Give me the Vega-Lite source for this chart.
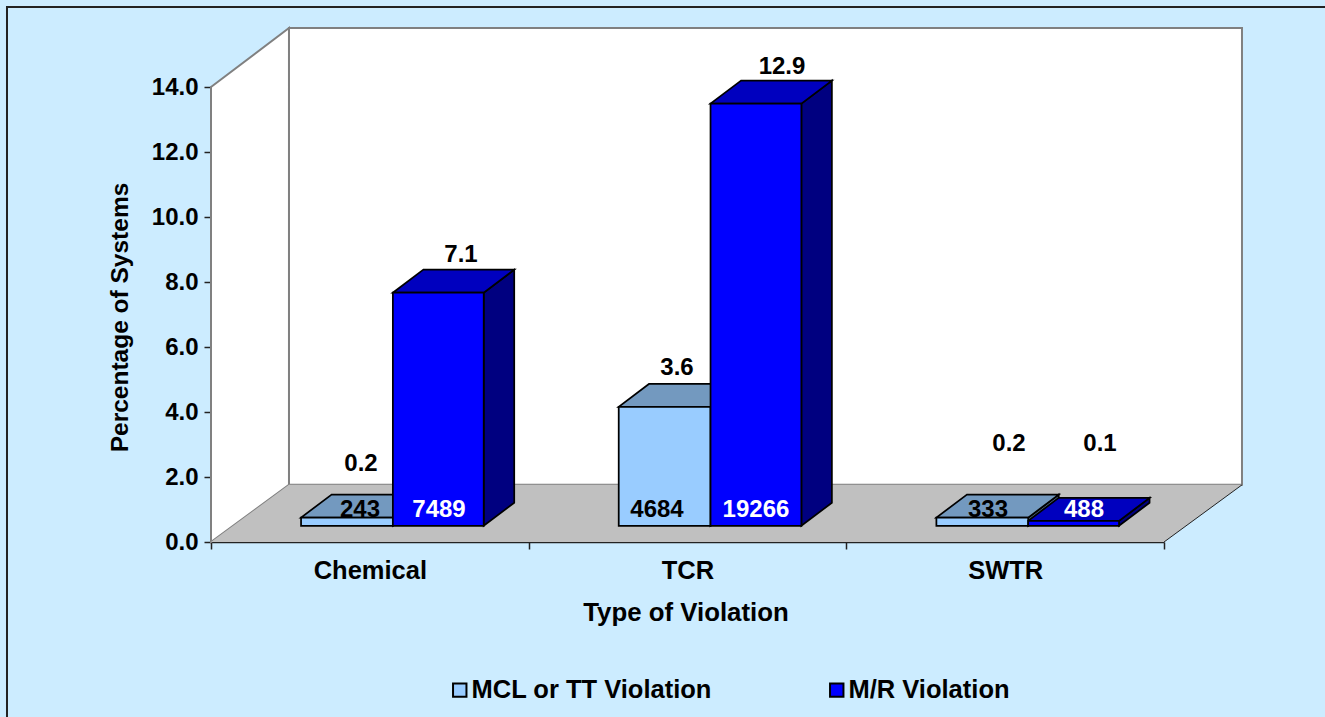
{
"$schema":"https://vega.github.io/schema/vega-lite/v6.json",
"autosize":{"type":"none"},
"width":953,"height":455,
"padding":{"left":211,"top":87,"right":161,"bottom":175},
"background":"#CCECFF",
"config":{"view":{"stroke":null},"font":"Liberation Sans","axis":{"grid":false,"labelFont":"Liberation Sans","titleFont":"Liberation Sans","labelFontWeight":"bold","titleFontWeight":"bold","labelFontSize":25.5,"titleFontSize":25.8,"labelColor":"black","titleColor":"black","domainColor":"#222222","tickColor":"#222222","domainWidth":1.5,"tickWidth":1.5,"tickSize":7,"zindex":1}},
"data":{"values":[
{"category":"Chemical","series":"MCL or TT Violation","percent":0.2,"systems":243},
{"category":"Chemical","series":"M/R Violation","percent":7.1,"systems":7489},
{"category":"TCR","series":"MCL or TT Violation","percent":3.6,"systems":4684},
{"category":"TCR","series":"M/R Violation","percent":12.9,"systems":19266},
{"category":"SWTR","series":"MCL or TT Violation","percent":0.2,"systems":333},
{"category":"SWTR","series":"M/R Violation","percent":0.1,"systems":488}
]},
"transform":[
{"calculate":"indexof(['Chemical','TCR','SWTR'],datum.category)+(datum.series==='M/R Violation'?0.5725:0.2835)","as":"left"},
{"calculate":"datum.left+(datum.series==='M/R Violation'?0.286:0.289)","as":"right"},
{"calculate":"0.5","as":"base"},
{"calculate":"datum.base+datum.percent*1.003+0.05","as":"top"},
{"calculate":"datum.category+'|'+datum.series[1]","as":"key"},
{"calculate":"{'Chemical|C':0.4722,'Chemical|/':0.787,'TCR|C':1.467,'TCR|/':1.7975,'SWTR|C':2.512,'SWTR|/':2.7985}[datum.key]","as":"pctX"},
{"calculate":"{'Chemical|C':2.41,'Chemical|/':8.84,'TCR|C':5.365,'TCR|/':14.63,'SWTR|C':3.03,'SWTR|/':3.03}[datum.key]","as":"pctY"},
{"calculate":"{'Chemical|C':0.469,'Chemical|/':0.7177,'TCR|C':1.404,'TCR|/':1.7156,'SWTR|C':2.446,'SWTR|/':2.748}[datum.key]","as":"cntX"}
],
"resolve":{"scale":{"x":"independent","color":"independent"}},
"layer":[
{"mark":{"type":"bar","opacity":0},
 "encoding":{"x":{"field":"category","type":"nominal","sort":["Chemical","TCR","SWTR"],"scale":{"type":"band","domain":["Chemical","TCR","SWTR"],"paddingInner":0,"paddingOuter":0},
   "axis":{"title":"Type of Violation","labelAngle":0,"tickBand":"extent","labelPadding":9,"titlePadding":17,"titleX":474.5,"orient":"bottom"}},
 "y":{"field":"percent","type":"quantitative","stack":null,"scale":{"domain":[0,14],"nice":false},
   "axis":{"title":"Percentage of Systems","values":[0,2,4,6,8,10,12,14],"format":".1f","labelPadding":6,"labelFontSize":24,"titleFontSize":24.5,"titlePadding":19,"titleY":230}}}},
{"data":{"values":[{"plane":"frame"}]},"mark":{"type":"rect","filled":false,"stroke":"#222222","strokeWidth":2},
 "encoding":{"x":{"datum":-0.6422,"type":"quantitative","scale":{"domain":[0,3],"nice":false},"axis":null},"x2":{"datum":3.6},
 "y":{"datum":16.46,"type":"quantitative","scale":{"domain":[0,14],"nice":false}},"y2":{"datum":-6}}},
{"data":{"values":[{"depth":0},{"depth":1}]},
 "transform":[{"calculate":"datum.depth*0.2455","as":"px"},{"calculate":"datum.depth*1.758","as":"low"},{"calculate":"14+datum.depth*1.815","as":"high"}],
 "mark":{"type":"area","fill":"white","stroke":"#808080","strokeWidth":2,"orient":"vertical"},
 "encoding":{"x":{"field":"px","type":"quantitative","scale":{"domain":[0,3],"nice":false},"axis":null},
 "y":{"field":"high","type":"quantitative","scale":{"domain":[0,14],"nice":false}},"y2":{"field":"low"}}},
{"data":{"values":[{"plane":"wall"}]},"mark":{"type":"rect","fill":"white","stroke":"#808080","strokeWidth":2},
 "encoding":{"x":{"datum":0.2455,"type":"quantitative","scale":{"domain":[0,3],"nice":false},"axis":null},"x2":{"datum":3.2455},
 "y":{"datum":15.815,"type":"quantitative","scale":{"domain":[0,14],"nice":false}},"y2":{"datum":1.758}}},
{"data":{"values":[{"depth":0},{"depth":1}]},
 "transform":[{"calculate":"datum.depth*0.2455","as":"px"},{"calculate":"3+datum.depth*0.2455","as":"px2"},{"calculate":"datum.depth*1.758","as":"py"}],
 "mark":{"type":"area","fill":"#C0C0C0","orient":"horizontal"},
 "encoding":{"x":{"field":"px","type":"quantitative","scale":{"domain":[0,3],"nice":false},"axis":null},"x2":{"field":"px2"},
 "y":{"field":"py","type":"quantitative","scale":{"domain":[0,14],"nice":false}}}},
{"data":{"values":[{"plane":"edge"}]},"mark":{"type":"rule","stroke":"#222222","strokeWidth":1},
 "encoding":{"x":{"datum":3,"type":"quantitative","scale":{"domain":[0,3],"nice":false},"axis":null},"x2":{"datum":3.2455},
 "y":{"datum":0,"type":"quantitative","scale":{"domain":[0,14],"nice":false}},"y2":{"datum":1.758}}},
{"transform":[{"calculate":"[0,1]","as":"depth"},{"flatten":["depth"]},{"calculate":"datum.right+datum.depth*0.096","as":"px"},{"calculate":"datum.top+datum.depth*0.708","as":"high"},{"calculate":"datum.base+datum.depth*0.708","as":"low"}],
 "mark":{"type":"area","stroke":"black","strokeWidth":1.75,"orient":"vertical"},
 "encoding":{"x":{"field":"px","type":"quantitative","scale":{"domain":[0,3],"nice":false},"axis":null},
 "y":{"field":"high","type":"quantitative","scale":{"domain":[0,14],"nice":false}},"y2":{"field":"low"},
 "detail":{"field":"category"},
 "color":{"field":"series","type":"nominal","scale":{"domain":["MCL or TT Violation","M/R Violation"],"range":["#4D6680","#000080"]},"legend":null}}},
{"transform":[{"calculate":"[0,1]","as":"depth"},{"flatten":["depth"]},{"calculate":"datum.left+datum.depth*0.096","as":"px"},{"calculate":"datum.right+datum.depth*0.096","as":"px2"},{"calculate":"datum.top+datum.depth*0.708","as":"py"}],
 "mark":{"type":"area","stroke":"black","strokeWidth":1.75,"orient":"horizontal"},
 "encoding":{"x":{"field":"px","type":"quantitative","scale":{"domain":[0,3],"nice":false},"axis":null},"x2":{"field":"px2"},
 "y":{"field":"py","type":"quantitative","scale":{"domain":[0,14],"nice":false}},
 "detail":{"field":"category"},
 "color":{"field":"series","type":"nominal","scale":{"domain":["MCL or TT Violation","M/R Violation"],"range":["#7399BF","#0000BF"]},"legend":null}}},
{"mark":{"type":"rect","stroke":"black","strokeWidth":1.75},
 "encoding":{"x":{"field":"left","type":"quantitative","scale":{"domain":[0,3],"nice":false},"axis":null},"x2":{"field":"right"},
 "y":{"field":"top","type":"quantitative","scale":{"domain":[0,14],"nice":false}},"y2":{"field":"base"},
 "color":{"field":"series","type":"nominal","scale":{"domain":["MCL or TT Violation","M/R Violation"],"range":["#99CCFF","#0000FF"]},
  "legend":{"title":null,"orient":"none","direction":"horizontal","legendX":236,"legendY":590,"columns":2,"symbolType":"square","symbolSize":180,"symbolStrokeColor":"black","symbolStrokeWidth":2,"symbolOpacity":1,"labelFont":"Liberation Sans","labelFontWeight":"bold","labelFontSize":25.5,"labelColor":"black","labelLimit":400,"labelOffset":-1,"columnPadding":112}}}},
{"mark":{"type":"text","font":"Liberation Sans","fontWeight":"bold","fontSize":24,"color":"black"},
 "encoding":{"x":{"field":"pctX","type":"quantitative","scale":{"domain":[0,3],"nice":false},"axis":null},
 "y":{"field":"pctY","type":"quantitative","scale":{"domain":[0,14],"nice":false}},
 "text":{"field":"percent","type":"quantitative","format":".1f"}}},
{"mark":{"type":"text","font":"Liberation Sans","fontWeight":"bold","fontSize":24},
 "transform":[{"calculate":"0.97","as":"cntY"}],
 "encoding":{"x":{"field":"cntX","type":"quantitative","scale":{"domain":[0,3],"nice":false},"axis":null},
 "y":{"field":"cntY","type":"quantitative","scale":{"domain":[0,14],"nice":false}},
 "text":{"field":"systems","type":"quantitative","format":"d"},
 "color":{"condition":{"test":"datum.series==='M/R Violation'","value":"white"},"value":"black"}}}
]
}
